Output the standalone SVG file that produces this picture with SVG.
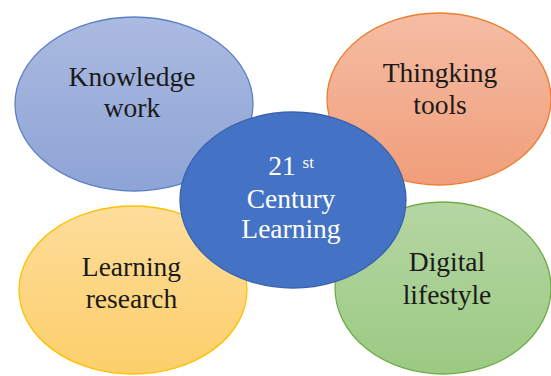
<svg xmlns="http://www.w3.org/2000/svg" width="551" height="376" viewBox="0 0 551 376">
<defs>
<linearGradient id="gBlue" x1="0" y1="0" x2="0" y2="1"><stop offset="0" stop-color="#abbae0"/><stop offset="1" stop-color="#8ea4d6"/></linearGradient>
<linearGradient id="gOrange" x1="0" y1="0" x2="0" y2="1"><stop offset="0" stop-color="#f5bda4"/><stop offset="1" stop-color="#f09e7a"/></linearGradient>
<linearGradient id="gYellow" x1="0" y1="0" x2="0" y2="1"><stop offset="0" stop-color="#fedd9c"/><stop offset="1" stop-color="#fccf6a"/></linearGradient>
<linearGradient id="gGreen" x1="0" y1="0" x2="0" y2="1"><stop offset="0" stop-color="#b5d6a3"/><stop offset="1" stop-color="#9bca83"/></linearGradient>
</defs>
<style>
text{font-family:"Times New Roman",Times,"Liberation Serif","DejaVu Serif","Noto Serif",serif;font-size:27.5px;text-anchor:middle;fill:#1a1a1a}
.c text{fill:#ffffff}
ellipse{stroke-width:1.3}
</style>
<rect width="551" height="376" fill="#ffffff"/>
<g id="connectors"/>
<g id="knowledge-work">
<ellipse cx="134" cy="104" rx="119" ry="87" fill="url(#gBlue)" stroke="#5b7fc7"/>
<text x="132" y="86">Knowledge</text>
<text x="132" y="117">work</text>
</g>
<g id="thinking-tools">
<ellipse cx="439" cy="99" rx="112" ry="86" fill="url(#gOrange)" stroke="#ed7d31"/>
<text x="440" y="82">Thingking</text>
<text x="440" y="114">tools</text>
</g>
<g id="learning-research">
<ellipse cx="133" cy="290" rx="114" ry="84" fill="url(#gYellow)" stroke="#ffc000"/>
<text x="131.5" y="276">Learning</text>
<text x="131.5" y="308">research</text>
</g>
<g id="digital-lifestyle">
<ellipse cx="443" cy="288" rx="108" ry="86" fill="url(#gGreen)" stroke="#70ad47"/>
<text x="447" y="271">Digital</text>
<text x="447" y="304">lifestyle</text>
</g>
<g id="center" class="c">
<ellipse cx="293" cy="200" rx="113" ry="88" fill="#4472c4" stroke="#3a63ad"/>
<text x="291" y="175">21 <tspan font-size="17" dy="-7">st</tspan></text>
<text x="291" y="208">Century</text>
<text x="291" y="238">Learning</text>
</g>
</svg>
